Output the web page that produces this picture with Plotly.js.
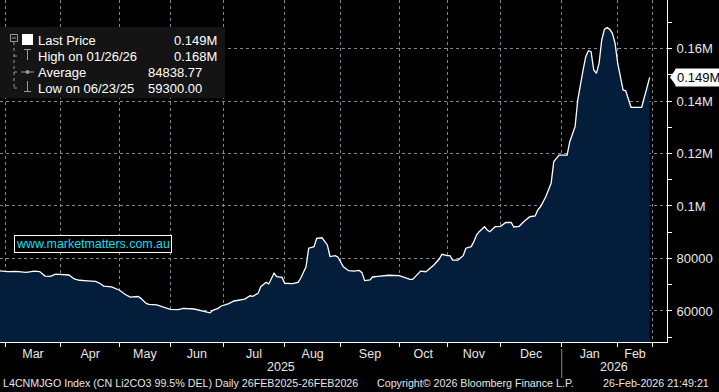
<!DOCTYPE html>
<html><head><meta charset="utf-8">
<script src="https://cdn.plot.ly/plotly-3.0.1.min.js"></script>
<style>html,body{margin:0;padding:0;background:#000;}#chart{width:719px;height:392px;}</style>
</head><body><div id="chart"></div>
<script>
// ---- data (trading-day index since 1 Mar 2025, CN Li2CO3 price) ----
const dayIndex = [-2,1,4,8,11,13,15,17,19,21,24,26,28,31,34,36,37,40,43,45,47,50,51,53,54,57,59,62,65,67,71,73,77,78,80,81,84,86,88,90,92,93,95,96,98,99,101,102,104,105,108,110,111,113,114,116,117,119,121,122,124,125,127,129,131,133,134,135,137,138,140,144,148,152,153,155,156,158,161,163,164,166,167,168,170,172,173,175,176,177,178,180,181,182,184,186,188,190,191,193,195,197,199,200,201,203,205,206,208,211,212,214,215,217,218,219,220,221,222,223,224,225,226,227,228,229,230,231,232,233,234,235,239,240,242];
const price = [75300,75000,75100,74700,75200,75000,73300,73200,74000,73800,73700,72200,71700,71500,71300,70300,69500,69200,67900,66350,65300,65500,64800,62900,62500,62300,61600,60600,60500,61000,60750,60250,59300,60250,61000,61800,62800,63800,64050,64550,65800,65600,66700,69250,70900,70300,74350,73050,72800,70550,70400,70900,72450,76850,83900,84500,87700,87900,85150,80700,81050,80450,76850,75350,75200,75450,74600,71550,71800,72950,73200,73600,73450,72050,72050,74200,75200,74950,77500,79800,81600,81050,81050,79400,79400,81050,83900,84500,86400,88950,90200,92100,90850,90200,92100,92250,93700,93700,92000,92250,94300,95900,96200,98500,99700,103500,108650,116900,119400,119400,124500,130200,140400,151800,156900,159150,158800,151800,150550,154350,163250,167300,168000,167300,165800,162000,154350,149250,144200,143900,141000,137600,137600,141650,149000];

const monthLabels = ['Mar','Apr','May','Jun','Jul','Aug','Sep','Oct','Nov','Dec','Jan','Feb'];
const monthStart = [0,21,43,62,82,105,126,148,166,186,209,230,243];
const yearLabels = ['2025','2026'];
const yearStartMonth = [0,10];

const yTickVals = [60000,80000,100000,120000,140000,160000];
const yTickText = ['60000','80000','0.1M','0.12M','0.14M','0.16M'];

const lastPrice = 149000;
const lastPriceText = '0.149M';
const legendLabels = ['Last Price','High on 01/26/26','Average','Low on 06/23/25'];
const legendValues = ['0.149M','0.168M','84838.77','59300.00'];
const footerTexts = ['L4CNMJGO Index (CN Li2CO3 99.5% DEL) Daily 26FEB2025-26FEB2026','Copyright\u00a9 2026 Bloomberg Finance L.P.','26-Feb-2026 21:49:21'];
const watermark = 'www.marketmatters.com.au';

// ---- layout helpers ----
const W=719,H=392,ML=0,MR=52,MT=0,MB=50;
const PW=W-ML-MR, PH=H-MT-MB;
const px = x => x/PW;
const py = y => (PH - y)/PH;
const FONT = '"Liberation Sans", Arial, sans-serif';
const XR = [-1.88, 248.5];

const mids = monthLabels.map((m,i)=>(monthStart[i]+monthStart[i+1])/2);

const traces = [
  {x: dayIndex, y: price, type:'scatter', mode:'lines', fill:'tozeroy',
   fillcolor:'#031d3a', line:{color:'#ffffff', width:1.3}, hoverinfo:'skip'},
  {x: yTickVals.map(()=>1.0068), y: yTickVals, xaxis:'x2', type:'scatter', mode:'markers',
   marker:{symbol:'triangle-right', size:7, color:'#ffffff'}, cliponaxis:false, hoverinfo:'skip'}
];

const gridColor = 'rgba(135,142,155,0.95)';
const shapes = [];
const annotations = [];

// legend box
shapes.push({type:'rect', xref:'paper', yref:'paper', x0:px(0), x1:px(225), y0:py(98), y1:py(27),
  fillcolor:'#141414', line:{width:0}, layer:'above'});
const ic = '#9a9a9a';
function ln(x0,y0,x1,y1,c,dash){shapes.push({type:'line',xref:'paper',yref:'paper',x0:px(x0),x1:px(x1),y0:py(y0),y1:py(y1),line:{color:c||ic,width:1,dash:dash||'solid'},layer:'above'});}
// tree
shapes.push({type:'rect',xref:'paper',yref:'paper',x0:px(10.5),x1:px(17.5),y0:py(41.5),y1:py(34.5),line:{color:ic,width:1},layer:'above'});
ln(12,38,16,38);
ln(14,42,14,88,ic,'dot');
ln(14,56,20,56,ic,'dot'); ln(14,72,20,72,ic,'dot'); ln(14,88,20,88,ic,'dot');
shapes.push({type:'rect',xref:'paper',yref:'paper',x0:px(22),x1:px(33),y0:py(45),y1:py(34),fillcolor:'#ffffff',line:{width:0},layer:'above'});
ln(24,49.5,31,49.5); ln(27.5,49.5,27.5,60);
ln(21,72,34,72);
shapes.push({type:'circle',xref:'paper',yref:'paper',x0:px(25.5),x1:px(29.5),y0:py(74),y1:py(70),fillcolor:ic,line:{width:0},layer:'above'});
ln(27.5,81,27.5,91.5); ln(24,91.5,31,91.5);

const rowY = [40.7,56,72.3,88.3];
const valRight = [219,219,203.5,203.5];
legendLabels.forEach((t,i)=>{
  annotations.push({xref:'paper',yref:'paper',x:px(35.5),y:py(rowY[i]),xanchor:'left',yanchor:'middle',
    text:t,showarrow:false,font:{family:FONT,size:13,color:'#ffffff'}});
  annotations.push({xref:'paper',yref:'paper',x:px(valRight[i]),y:py(rowY[i]),xanchor:'right',yanchor:'middle',
    text:legendValues[i],showarrow:false,font:{family:FONT,size:13,color:'#ffffff'}});
});

// watermark
annotations.push({xref:'paper',yref:'paper',x:px(92.6),y:py(243.5),xanchor:'center',yanchor:'middle',
  text:watermark,showarrow:false,font:{family:FONT,size:12.4,color:'#16dcec'},
  bgcolor:'#000000',bordercolor:'#ffffff',borderwidth:1,borderpad:1});

// last price tag
annotations.push({xref:'paper',yref:'y',x:1,xshift:8,y:lastPrice,xanchor:'left',yanchor:'middle',
  text:lastPriceText,showarrow:false,font:{family:FONT,size:13,color:'#000000'},bgcolor:'#ffffff',borderpad:1});
shapes.push({type:'path',xref:'paper',yref:'y',xsizemode:'pixel',ysizemode:'pixel',xanchor:1,yanchor:lastPrice,
  path:'M 3,0 L 9,-8.5 L 9,8.5 Z',fillcolor:'#ffffff',line:{width:0},layer:'above'});

// year labels and separator
const yearBounds = [XR[0], monthStart[yearStartMonth[1]], XR[1]];
yearLabels.forEach((t,i)=>{
  annotations.push({xref:'x',yref:'paper',x:(yearBounds[i]+yearBounds[i+1])/2,y:py(367.5),xanchor:'center',yanchor:'middle',
    text:t,showarrow:false,font:{family:FONT,size:12.5,color:'#e8e8e8'}});
});
shapes.push({type:'line',xref:'x',yref:'paper',x0:monthStart[yearStartMonth[1]],x1:monthStart[yearStartMonth[1]],
  y0:py(349),y1:py(378),line:{color:'#8a8a8a',width:1}});

// footer
const footX = [1,375,601];
footerTexts.forEach((t,i)=>{
  annotations.push({xref:'paper',yref:'paper',x:px(footX[i]),y:py(383.5),xanchor:'left',yanchor:'middle',
    text:t,showarrow:false,font:{family:FONT,size:10.7,color:'#e6e6e6'}});
});

const layout = {
  width:W, height:H, margin:{l:ML,r:MR,t:MT,b:MB,pad:0},
  paper_bgcolor:'#000000', plot_bgcolor:'#000000', showlegend:false,
  xaxis:{range:XR, showgrid:false, zeroline:false, showline:true, linecolor:'#ffffff', linewidth:1,
    tickmode:'array', tickvals:mids, ticktext:monthLabels, ticks:'',
    tickfont:{family:FONT,size:12.5,color:'#e8e8e8'}, fixedrange:true,
    minor:{tickmode:'array', tickvals:monthStart, ticks:'outside', ticklen:4, tickcolor:'#ffffff',
      showgrid:true, gridcolor:gridColor, griddash:'3px,3px', gridwidth:1}},
  xaxis2:{overlaying:'x', range:[0,1], visible:false, fixedrange:true},
  yaxis:{side:'right', range:[48175,178480], tickmode:'array', tickvals:yTickVals, ticktext:yTickText,
    ticks:'outside', ticklen:6, tickcolor:'rgba(0,0,0,0)', showgrid:true, gridcolor:gridColor, griddash:'3px,3px',
    zeroline:false, showline:true, linecolor:'#ffffff', linewidth:1,
    tickfont:{family:FONT,size:13,color:'#e8e8e8'}, fixedrange:true,
    minor:{tickmode:'linear', tick0:0, dtick:10000, ticks:'outside', ticklen:4, tickcolor:'#ffffff', showgrid:false}},
  shapes:shapes, annotations:annotations
};

Plotly.newPlot('chart', traces, layout, {displayModeBar:false, staticPlot:true});
</script>
</body></html>
